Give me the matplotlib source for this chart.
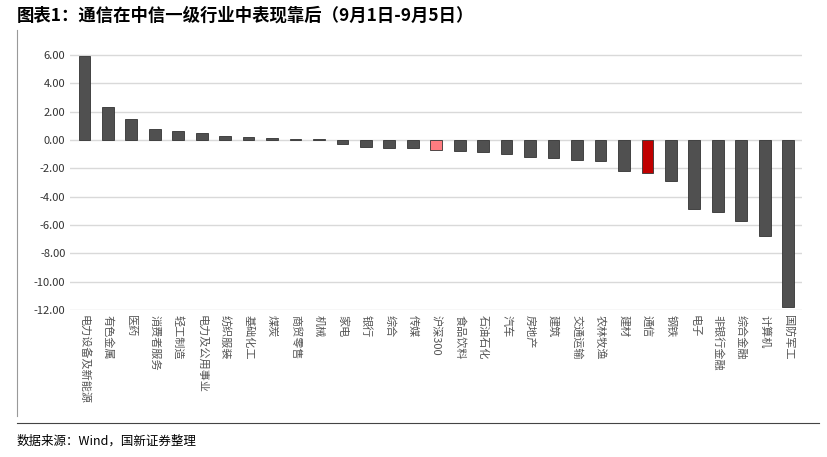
import matplotlib.pyplot as plt
import numpy as np

plt.rcParams['font.family'] = ['Noto Sans CJK SC', 'DejaVu Sans']

industries = ['电力设备及新能源', '有色金属', '医药', '消费者服务', '轻工制造', '电力及公用事业',
              '纺织服装', '基础化工', '煤炭', '商贸零售', '机械', '家电', '银行', '综合', '传媒',
              '沪深300', '食品饮料', '石油石化', '汽车', '房地产', '建筑', '交通运输', '农林牧渔',
              '建材', '通信', '钢铁', '电子', '非银行金融', '综合金融', '计算机', '国防军工']
returns = [5.9, 2.3, 1.5, 0.8, 0.6, 0.5, 0.3, 0.2, 0.15, 0.1, 0.05, -0.3, -0.5, -0.55, -0.6,
           -0.7, -0.8, -0.85, -1.0, -1.2, -1.25, -1.4, -1.5, -2.2, -2.35, -2.9, -4.9, -5.1,
           -5.7, -6.8, -11.8]

colors = []
for n in industries:
    if n == '通信':
        colors.append('#c00000')
    elif n == '沪深300':
        colors.append('#ff7c80')
    else:
        colors.append('#505050')

fig = plt.figure(figsize=(8.27, 4.57), dpi=100)
ax = fig.add_axes([0.085, 0.322, 0.885, 0.57])
x = np.arange(len(industries))
ax.bar(x, returns, 0.5, color=colors, edgecolor='#333333', linewidth=0.6, zorder=3)
ax.set_ylim(-12, 6.4)
ax.set_yticks(np.arange(-12, 7, 2))
ax.set_yticklabels([f'{v:.2f}' for v in np.arange(-12, 7, 2)], fontsize=8, color='#333333')
ax.yaxis.grid(True, color='#d9d9d9', lw=1, zorder=0)
ax.set_xlim(-0.6, len(industries) - 0.4)
ax.set_xticks(x)
ax.set_xticklabels(industries, rotation=270, fontsize=8, color='#555555', va='top', ha='center')
ax.tick_params(length=0)
for s in ax.spines.values():
    s.set_visible(False)

fig.text(0.02, 0.965, '图表1：通信在中信一级行业中表现靠后（9月1日-9月5日）', fontsize=12.5,
         fontweight='bold', fontstyle='italic', va='center')
fig.add_artist(plt.Line2D([0.02, 0.02], [0.09, 0.935], color='#999999', lw=0.8))
fig.add_artist(plt.Line2D([0.02, 0.99], [0.075, 0.075], color='#444444', lw=0.8))
fig.text(0.02, 0.035, '数据来源：Wind，国新证券整理', fontsize=9, va='center')

fig.savefig('out.png', dpi=100)
